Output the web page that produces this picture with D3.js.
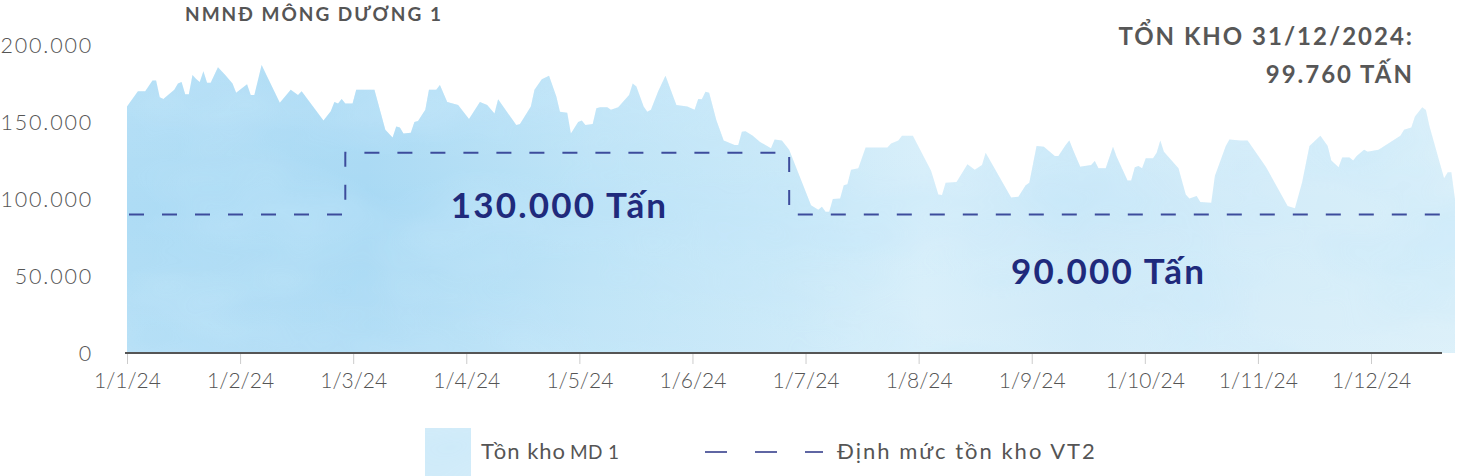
<!DOCTYPE html>
<html><head><meta charset="utf-8">
<script src="https://cdn.jsdelivr.net/npm/d3@7"></script>
<style>
html,body{margin:0;padding:0;background:#fff;}
svg{display:block;}
</style></head>
<body>
<svg id="chart" width="1457" height="476"></svg>
<script>
// ---------- DATA ----------
const title = "NMNĐ MÔNG DƯƠNG 1";
const stockNoteLines = ["TỔN KHO 31/12/2024:", "99.760 TẤN"];
const monthLabels = ["1/1/24","1/2/24","1/3/24","1/4/24","1/5/24","1/6/24","1/7/24","1/8/24","1/9/24","1/10/24","1/11/24","1/12/24"];
const yTicks = [0, 50000, 100000, 150000, 200000];
const seriesNames = ["Tồn kho", "MD 1", "Định mức tồn kho VT2"];

const stockDates = [
"2024-01-01","2024-01-04","2024-01-06","2024-01-08","2024-01-09","2024-01-10","2024-01-11","2024-01-14","2024-01-15","2024-01-16",
"2024-01-17","2024-01-18","2024-01-19","2024-01-20","2024-01-21","2024-01-22","2024-01-23","2024-01-24","2024-01-26","2024-01-28",
"2024-01-30","2024-01-31","2024-02-03","2024-02-04","2024-02-05","2024-02-07","2024-02-12","2024-02-15","2024-02-17","2024-02-18",
"2024-02-24","2024-02-26","2024-02-27","2024-02-28","2024-02-29","2024-03-01","2024-03-03","2024-03-04","2024-03-07","2024-03-09",
"2024-03-12","2024-03-14","2024-03-15","2024-03-16","2024-03-17","2024-03-19","2024-03-20","2024-03-21","2024-03-23","2024-03-24",
"2024-03-26","2024-03-27","2024-03-29","2024-04-01","2024-04-04","2024-04-07","2024-04-09","2024-04-11","2024-04-12","2024-04-17",
"2024-04-18","2024-04-21","2024-04-22","2024-04-24","2024-04-26","2024-04-28","2024-04-29","2024-05-01","2024-05-02","2024-05-04",
"2024-05-05","2024-05-06","2024-05-08","2024-05-09","2024-05-10","2024-05-12","2024-05-13","2024-05-15","2024-05-18","2024-05-19",
"2024-05-20","2024-05-21","2024-05-22","2024-05-23","2024-05-24","2024-05-26","2024-05-28","2024-05-31","2024-06-03","2024-06-05",
"2024-06-06","2024-06-07","2024-06-08","2024-06-09","2024-06-11","2024-06-13","2024-06-16","2024-06-17","2024-06-18","2024-06-19",
"2024-06-21","2024-06-23","2024-06-26","2024-06-27","2024-06-29","2024-07-01","2024-07-07","2024-07-09","2024-07-10","2024-07-11",
"2024-07-12","2024-07-13","2024-07-15","2024-07-16","2024-07-17","2024-07-18","2024-07-20","2024-07-22","2024-07-28","2024-07-29",
"2024-07-31","2024-08-01","2024-08-04","2024-08-09","2024-08-11","2024-08-12","2024-08-13","2024-08-16","2024-08-19","2024-08-21",
"2024-08-23","2024-08-24","2024-08-31","2024-09-02","2024-09-04","2024-09-05","2024-09-07","2024-09-09","2024-09-12","2024-09-13",
"2024-09-15","2024-09-16","2024-09-17","2024-09-19","2024-09-22","2024-09-23","2024-09-24","2024-09-26","2024-09-28","2024-09-29",
"2024-10-02","2024-10-03","2024-10-04","2024-10-05","2024-10-06","2024-10-07","2024-10-09","2024-10-10","2024-10-11","2024-10-12",
"2024-10-16","2024-10-18","2024-10-19","2024-10-21","2024-10-22","2024-10-25","2024-10-26","2024-10-29","2024-10-30","2024-11-02",
"2024-11-04","2024-11-09","2024-11-15","2024-11-17","2024-11-19","2024-11-21","2024-11-24","2024-11-26","2024-11-27","2024-11-29",
"2024-11-30","2024-12-02","2024-12-03","2024-12-04","2024-12-06","2024-12-07","2024-12-10","2024-12-13","2024-12-16","2024-12-17",
"2024-12-19","2024-12-20","2024-12-22","2024-12-23","2024-12-24","2024-12-28","2024-12-29","2024-12-30","2024-12-31"
];
const stockValues = [
160000,170000,170000,177000,177000,166000,165000,171000,175000,176000,
168000,168000,180500,178000,176000,183000,175500,175500,185500,180500,
175000,169000,174500,167500,167500,187000,162500,171000,167500,170000,
151000,157000,163000,162000,165000,162000,162000,171000,171000,171000,
145000,140000,147000,146500,142600,143000,150000,150600,158000,171000,
171000,174000,163000,161000,152000,163000,161000,155600,164700,148000,
148700,160000,171000,177700,180000,166500,156700,156000,142600,150000,
151000,148000,148700,159000,159500,159500,158000,159500,167500,175000,
173000,166500,160000,156700,158000,170000,180000,161000,160000,158000,
165000,164700,169600,169000,151000,138000,135000,135000,143700,144000,
141000,137000,133000,138700,138000,132000,96000,93000,95000,91800,
91800,100000,100400,109000,109500,119000,120000,133500,133500,136000,
138000,141000,141000,118400,103000,102600,110600,111000,122500,119000,
122000,130000,101000,101500,109000,110600,134400,134000,128000,128000,
135000,138000,132000,121000,122000,124700,120000,120000,134000,127500,
112000,112000,120600,121400,120000,126400,126400,130000,138000,130700,
120000,103000,100400,102000,98000,97600,115000,134400,138700,138000,
138000,121000,95500,94000,111000,134400,141000,134400,125000,120600,
127000,127000,125000,128000,132000,130700,132000,136600,141000,145000,
146500,153500,159500,157800,147000,113400,117300,117300,99760
];
const normDates = ["2024-01-01","2024-03-01","2024-07-01","2024-12-31"];
const normValues = [90000, 130000, 90000, 90000];
const normLabels = ["130.000 Tấn", "90.000 Tấn"];
const normLabelDates = ["2024-03-30", "2024-08-31"];

// ---------- CHART ----------
const parse = d3.timeParse("%Y-%m-%d");
const stock = stockDates.map((d,i)=>({date:parse(d), value:stockValues[i]}));
const norm = normDates.map((d,i)=>({date:parse(d), value:normValues[i]}));

const svg = d3.select("#chart");
const x = d3.scaleTime().domain([parse("2024-01-01"), parse("2024-12-31")]).range([127, 1455]);
const y = d3.scaleLinear().domain([0, 200000]).range([353, 45]);
const xLab = d3.scalePoint().domain(monthLabels).range([127, 1371]);

const fmt = d3.formatLocale({decimal:",", thousands:".", grouping:[3], currency:["",""]}).format(",d");

const defs = svg.append("defs");
const grad = defs.append("linearGradient").attr("id","fillGrad").attr("x1","0").attr("x2","1").attr("y1","0").attr("y2","0");
[[0,"#aedcf5"],[0.18,"#a8d9f4"],[0.35,"#bce3f7"],[0.5,"#c8e8f8"],[0.6,"#d6eefa"],[0.72,"#cde9f8"],[0.85,"#d3ecf9"],[1,"#d9eff9"]]
  .forEach(([o,c])=>grad.append("stop").attr("offset",o).attr("stop-color",c));
const vgrad = defs.append("linearGradient").attr("id","vGrad").attr("x1","0").attr("x2","0").attr("y1","0").attr("y2","1");
[[0,"#ffffff",0.12],[0.5,"#ffffff",0],[1,"#ffffff",0.1]].forEach(([o,c,a])=>vgrad.append("stop").attr("offset",o).attr("stop-color",c).attr("stop-opacity",a));

const filt = defs.append("filter").attr("id","wc").attr("x","0").attr("y","0").attr("width","1").attr("height","1");
filt.append("feTurbulence").attr("type","fractalNoise").attr("baseFrequency","0.006 0.011").attr("numOctaves",3).attr("seed",11).attr("result","noise");
filt.append("feColorMatrix").attr("in","noise").attr("type","matrix")
  .attr("values","0 0 0 0 0.55  0 0 0 0 0.80  0 0 0 0 0.96  0 0 0 1.6 -0.62").attr("result","blue");
filt.append("feComposite").attr("in","blue").attr("in2","SourceGraphic").attr("operator","in");

const area = d3.area().x(d=>x(d.date)).y0(y(0)).y1(d=>y(d.value)).curve(d3.curveLinear);
svg.append("path").datum(stock).attr("d", area).attr("fill","url(#fillGrad)");
svg.append("path").datum(stock).attr("d", area).attr("fill","#fff").attr("filter","url(#wc)").attr("opacity",0.6);
svg.append("path").datum(stock).attr("d", area).attr("fill","url(#vGrad)");

// norm dashed line
const line = d3.line().x(d=>x(d.date)).y(d=>y(d.value)).curve(d3.curveStepAfter);
svg.append("path").datum(norm).attr("d", line).attr("fill","none")
  .attr("stroke","#3d4c9c").attr("stroke-width",2).attr("stroke-dasharray","15 18").attr("stroke-dashoffset",-2);

// y axis labels
const yAxis = svg.append("g").attr("transform","translate(93,0)")
  .call(d3.axisLeft(y).tickValues(yTicks).tickFormat(fmt).tickSize(0).tickPadding(0));
yAxis.select(".domain").remove();
yAxis.selectAll("text").attr("font-family","Lato").attr("font-weight",300).attr("font-size",21.5)
  .attr("fill","#555").attr("letter-spacing","1.8px").attr("dy","0.35em");

// x axis
svg.append("line").attr("x1",x.range()[0]-2).attr("x2",1442).attr("y1",y(0)).attr("y2",y(0))
  .attr("stroke","#555").attr("stroke-width",2);
const xAxis = svg.append("g").attr("transform",`translate(0,${y(0)+1})`)
  .call(d3.axisBottom(xLab).tickSize(10).tickPadding(9));
xAxis.select(".domain").remove();
xAxis.selectAll(".tick line").attr("stroke","#ccc");
xAxis.selectAll("text").attr("font-family","Lato").attr("font-weight",300).attr("font-size",21).attr("fill","#555");

// norm labels
svg.append("g").selectAll("text").data(normLabels).join("text")
  .attr("x",(d,i)=>x(parse(normLabelDates[i])))
  .attr("y",(d,i)=>y(normValues[i===0?1:2]) + (i===0?65:70))
  .text(d=>d)
  .attr("font-family","Lato").attr("font-weight",700).attr("font-size",35).attr("fill","#1f2a7c").attr("letter-spacing","2.2px");

// title
svg.append("text").attr("x",185).attr("y",21).text(title)
  .attr("font-family","Lato").attr("font-weight",700).attr("font-size",19).attr("fill","#555").attr("letter-spacing","2px");

svg.append("g").selectAll("text").data(stockNoteLines).join("text")
  .attr("x",1414).attr("y",(d,i)=>45+i*38).attr("text-anchor","end").text(d=>d)
  .attr("font-family","Lato").attr("font-weight",700).attr("font-size",24).attr("fill","#575757").attr("letter-spacing","2px");

// legend
const lg = svg.append("g");
lg.append("rect").attr("x",425).attr("y",428).attr("width",46).attr("height",48).attr("fill","#d3ecf9");
lg.append("rect").attr("x",425).attr("y",428).attr("width",46).attr("height",48).attr("fill","#fff").attr("filter","url(#wc)").attr("opacity",0.5);
const t1 = lg.append("text").attr("x",481).attr("y",459).attr("font-family","Lato").attr("font-weight",400).attr("font-size",22).attr("fill","#555").attr("letter-spacing","1px");
t1.append("tspan").text(seriesNames[0]);
t1.append("tspan").attr("font-size",19).attr("dx",4).attr("letter-spacing","0.3px").text(seriesNames[1]);
lg.append("line").attr("x1",705).attr("x2",823).attr("y1",452).attr("y2",452)
  .attr("stroke","#2b3585").attr("stroke-width",1.6).attr("stroke-dasharray","22 28");
lg.append("text").attr("x",837).attr("y",459).text(seriesNames[2])
  .attr("font-family","Lato").attr("font-weight",400).attr("font-size",22).attr("fill","#555").attr("letter-spacing","2px");
</script>
</body></html>
